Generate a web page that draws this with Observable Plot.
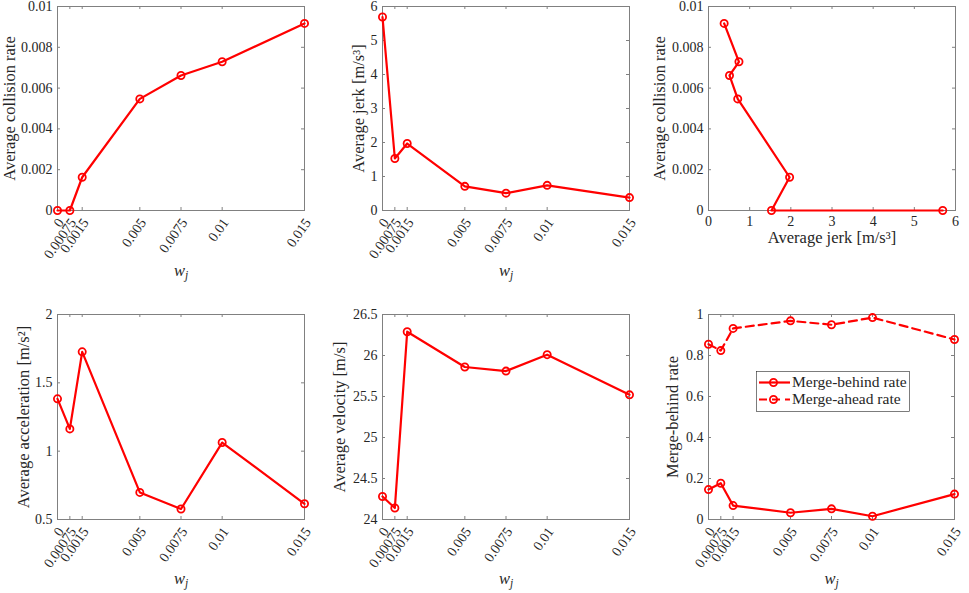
<!DOCTYPE html>
<html><head><meta charset="utf-8">
<script src="https://cdn.jsdelivr.net/npm/d3@7"></script>
<script src="https://cdn.jsdelivr.net/npm/@observablehq/plot@0.6"></script>
<style>
html,body{margin:0;padding:0;background:#fff;}
#fig{position:relative;width:969px;height:593px;overflow:hidden;background:#fff;}
#fig svg{position:absolute;overflow:visible;}
</style></head><body><div id="fig"></div>
<script>
// ---- data ----
const wj = [0, 0.00075, 0.0015, 0.005, 0.0075, 0.01, 0.015];
const wjTickLabels = ["0", "0.00075", "0.0015", "0.005", "0.0075", "0.01", "0.015"];
const collisionRate = [0, 0, 0.00163, 0.00547, 0.00662, 0.00729, 0.00917];
const avgJerk = [5.69, 1.53, 1.97, 0.71, 0.51, 0.74, 0.38];
const avgAccel = [1.383, 1.163, 1.727, 0.698, 0.577, 1.063, 0.615];
const avgVelocity = [24.28, 24.14, 26.29, 25.86, 25.81, 26.01, 25.52];
const mergeBehind = [0.146, 0.177, 0.068, 0.033, 0.052, 0.016, 0.124];
const mergeAhead = [0.855, 0.824, 0.932, 0.969, 0.950, 0.985, 0.878];

const collisionTicks = [0, 0.002, 0.004, 0.006, 0.008, 0.01];
const collisionTickLabels = ["0", "0.002", "0.004", "0.006", "0.008", "0.01"];
const jerkTicks = [0, 1, 2, 3, 4, 5, 6];
const jerkTickLabels = ["0", "1", "2", "3", "4", "5", "6"];
const accelTicks = [0.5, 1, 1.5, 2];
const accelTickLabels = ["0.5", "1", "1.5", "2"];
const velocityTicks = [24, 24.5, 25, 25.5, 26, 26.5];
const velocityTickLabels = ["24", "24.5", "25", "25.5", "26", "26.5"];
const rateTicks = [0, 0.2, 0.4, 0.6, 0.8, 1];
const rateTickLabels = ["0", "0.2", "0.4", "0.6", "0.8", "1"];

const rows = wj.map((w, i) => ({
  w, collision: collisionRate[i], jerk: avgJerk[i], accel: avgAccel[i],
  velocity: avgVelocity[i], behind: mergeBehind[i], ahead: mergeAhead[i]
}));

// ---- style ----
const RED = "#ff0000";
const AX = "#808080";
const TXT = "#262626";
const FONT = "Liberation Serif";
const fig = document.getElementById("fig");

function panel(c) {
  const pw = c.width - c.ml - c.mr, ph = c.height - c.mt - c.mb;
  const xt = d3.zip(c.xTicks, c.xLabels);
  const yt = d3.zip(c.yTicks, c.yLabels);
  const T = {fill: TXT, fontFamily: FONT};
  const marks = [
    Plot.frame({stroke: AX, strokeWidth: 1}),
    Plot.tickX(c.xTicks, {x: d => d, insetTop: ph - 3, stroke: AX}),
    Plot.tickX(c.xTicks, {x: d => d, insetBottom: ph - 3, stroke: AX}),
    Plot.tickY(c.yTicks, {y: d => d, insetRight: pw - 3, stroke: AX}),
    Plot.tickY(c.yTicks, {y: d => d, insetLeft: pw - 3, stroke: AX}),
    Plot.text(yt, {...T, y: d => d[0], text: d => d[1], frameAnchor: "left", dx: -5, textAnchor: "end", fontSize: 14}),
    c.xRotate
      ? Plot.text(xt, {...T, x: d => d[0], text: d => d[1], frameAnchor: "bottom", dx: 7, dy: 12, rotate: -55, textAnchor: "end", fontSize: 14})
      : Plot.text(xt, {...T, x: d => d[0], text: d => d[1], frameAnchor: "bottom", dy: 15, textAnchor: "middle", fontSize: 14}),
    Plot.text([c.yLabel], {...T, text: d => d, frameAnchor: "left", dx: c.yLabelDx, rotate: -90, textAnchor: "middle", fontSize: 16.5}),
    Plot.text([c.xLabel], {...T, text: d => d, frameAnchor: "bottom", dy: c.xLabelDy, textAnchor: "middle", fontSize: 16.5})
  ];
  for (const s of c.series) {
    marks.push(Plot.line(rows, {x: s.x, y: s.y, stroke: RED, strokeWidth: 2.2, strokeDasharray: s.dash || null}));
    marks.push(Plot.dot(rows, {x: s.x, y: s.y, r: 3.6, stroke: RED, strokeWidth: 1.8, fill: "none"}));
  }
  const svg = Plot.plot({
    width: c.width, height: c.height,
    marginLeft: c.ml, marginRight: c.mr, marginTop: c.mt, marginBottom: c.mb,
    x: {domain: c.xDomain, axis: null},
    y: {domain: c.yDomain, axis: null},
    style: {fontFamily: FONT, background: "transparent", overflow: "visible"},
    marks
  });
  svg.style.left = c.left + "px";
  svg.style.top = c.top + "px";
  d3.select(svg).selectAll("text").filter(function() { return this.textContent === "w_j"; })
    .each(function() {
      const t = d3.select(this);
      t.text("");
      t.append("tspan").attr("font-style", "italic").text("w");
      t.append("tspan").attr("font-style", "italic").attr("font-size", 11.5).attr("dy", "0.3em").text("j");
    });
  fig.appendChild(svg);
  return svg;
}

const wPanel = {xDomain: [0, 0.015], xTicks: wj, xLabels: wjTickLabels, xRotate: true, xLabel: "w_j"};

panel({...wPanel, left: 0, top: 0, width: 323, height: 296, ml: 57, mr: 19, mt: 6, mb: 86,
  yDomain: [0, 0.01], yTicks: collisionTicks, yLabels: collisionTickLabels,
  yLabel: "Average collision rate", yLabelDx: -48, xLabelDy: 65,
  series: [{x: "w", y: "collision"}]});

panel({...wPanel, left: 323, top: 0, width: 323, height: 296, ml: 59, mr: 17, mt: 6, mb: 86,
  yDomain: [0, 6], yTicks: jerkTicks, yLabels: jerkTickLabels,
  yLabel: "Average jerk [m/s³]", yLabelDx: -24, xLabelDy: 65,
  series: [{x: "w", y: "jerk"}]});

panel({left: 646, top: 0, width: 323, height: 296, ml: 62, mr: 14, mt: 6, mb: 86,
  xDomain: [0, 6], xTicks: jerkTicks, xLabels: jerkTickLabels, xRotate: false,
  xLabel: "Average jerk [m/s³]", xLabelDy: 32,
  yDomain: [0, 0.01], yTicks: collisionTicks, yLabels: collisionTickLabels,
  yLabel: "Average collision rate", yLabelDx: -49,
  series: [{x: "jerk", y: "collision"}]});

panel({...wPanel, left: 0, top: 296, width: 323, height: 297, ml: 57, mr: 19, mt: 18, mb: 74,
  yDomain: [0.5, 2], yTicks: accelTicks, yLabels: accelTickLabels,
  yLabel: "Average acceleration [m/s²]", yLabelDx: -34, xLabelDy: 64,
  series: [{x: "w", y: "accel"}]});

panel({...wPanel, left: 323, top: 296, width: 323, height: 297, ml: 59, mr: 17, mt: 18, mb: 74,
  yDomain: [24, 26.5], yTicks: velocityTicks, yLabels: velocityTickLabels,
  yLabel: "Average velocity [m/s]", yLabelDx: -43, xLabelDy: 64,
  series: [{x: "w", y: "velocity"}]});

panel({...wPanel, left: 646, top: 296, width: 323, height: 297, ml: 62, mr: 15, mt: 18, mb: 74,
  yDomain: [0, 1], yTicks: rateTicks, yLabels: rateTickLabels,
  yLabel: "Merge-behind rate", yLabelDx: -36, xLabelDy: 64,
  series: [{x: "w", y: "behind"}, {x: "w", y: "ahead", dash: "8,5"}]});

// ---- legend ----
const legendItems = [
  {label: "Merge-behind rate", dash: null},
  {label: "Merge-ahead rate", dash: "8,5"}
];
const leg = d3.create("svg").attr("width", 155).attr("height", 42)
  .style("left", "756px").style("top", "371px");
leg.append("rect").attr("x", 0.5).attr("y", 0.5).attr("width", 153).attr("height", 40)
  .attr("fill", "#fff").attr("stroke", "#262626").attr("stroke-width", 0.6);
legendItems.forEach((it, i) => {
  const y = 11.5 + i * 17;
  leg.append("line").attr("x1", 3).attr("x2", 34).attr("y1", y).attr("y2", y)
    .attr("stroke", RED).attr("stroke-width", 2.2).attr("stroke-dasharray", it.dash);
  leg.append("circle").attr("cx", 17.5).attr("cy", y).attr("r", 3.6)
    .attr("fill", "none").attr("stroke", RED).attr("stroke-width", 1.8);
  leg.append("text").attr("x", 36).attr("y", y).attr("dy", "0.32em")
    .attr("font-family", FONT).attr("font-size", 15.5).attr("fill", TXT).text(it.label);
});
fig.appendChild(leg.node());
</script>
</body></html>
